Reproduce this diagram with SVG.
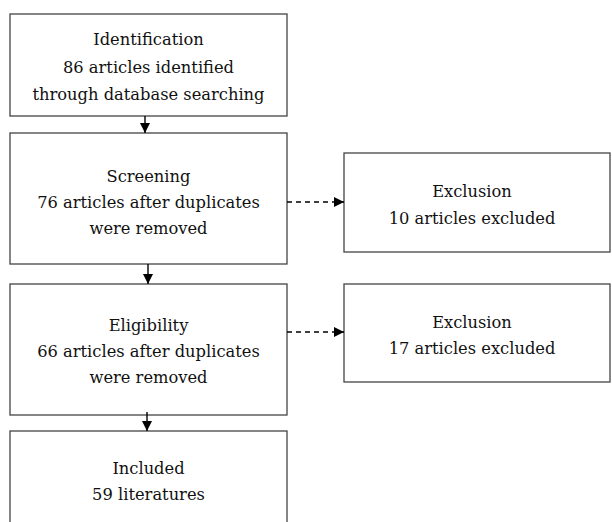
<svg xmlns="http://www.w3.org/2000/svg" width="612" height="522" viewBox="0 0 612 522">
<style>
.box{fill:#fff;stroke:#444;stroke-width:1.3}
text{font-family:"DejaVu Serif","Liberation Serif",serif;font-size:16.3px;fill:#111;text-anchor:middle}
.solid{stroke:#000;stroke-width:1.4;fill:none}
.dash{stroke:#000;stroke-width:1.5;fill:none;stroke-dasharray:5,4}
</style>
<defs>
<marker id="ah" viewBox="0 0 10 10" refX="10" refY="5" markerWidth="10" markerHeight="10" markerUnits="userSpaceOnUse" orient="auto">
<path d="M0,0 L10,5 L0,10 Z" fill="#000"/>
</marker>
</defs>
<g id="identification">
<rect class="box" x="10" y="14" width="277" height="102"/>
<text x="148.5" y="45">Identification</text>
<text x="148.5" y="73">86 articles identified</text>
<text x="148.5" y="100">through database searching</text>
</g>
<g id="screening">
<rect class="box" x="10" y="133" width="277" height="131"/>
<text x="148.5" y="182">Screening</text>
<text x="148.5" y="208">76 articles after duplicates</text>
<text x="148.5" y="234">were removed</text>
</g>
<g id="exclusion1">
<rect class="box" x="344" y="153" width="266" height="99"/>
<text x="472" y="197">Exclusion</text>
<text x="472" y="224">10 articles excluded</text>
</g>
<g id="eligibility">
<rect class="box" x="10" y="284" width="277" height="131"/>
<text x="148.5" y="331">Eligibility</text>
<text x="148.5" y="357">66 articles after duplicates</text>
<text x="148.5" y="383">were removed</text>
</g>
<g id="exclusion2">
<rect class="box" x="344" y="284" width="266" height="98"/>
<text x="472" y="328">Exclusion</text>
<text x="472" y="354">17 articles excluded</text>
</g>
<g id="included">
<rect class="box" x="10" y="431" width="277" height="100"/>
<text x="148.5" y="474">Included</text>
<text x="148.5" y="500">59 literatures</text>
</g>
<g id="connectors">
<line class="solid" x1="145" y1="116" x2="145" y2="133" marker-end="url(#ah)"/>
<line class="solid" x1="148" y1="264" x2="148" y2="284" marker-end="url(#ah)"/>
<line class="solid" x1="147" y1="412" x2="147" y2="431" marker-end="url(#ah)"/>
<line class="dash" x1="287" y1="202" x2="344" y2="202" marker-end="url(#ah)"/>
<line class="dash" x1="287" y1="332" x2="344" y2="332" marker-end="url(#ah)"/>
</g>
</svg>
